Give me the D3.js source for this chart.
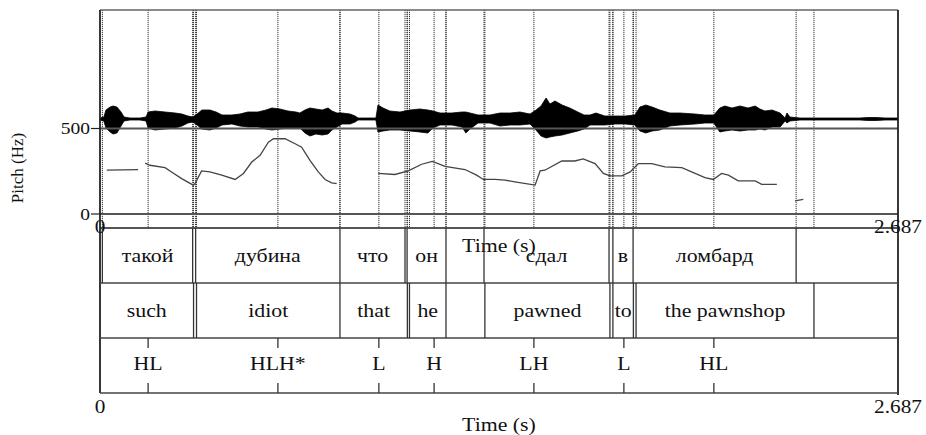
<!DOCTYPE html>
<html><head><meta charset="utf-8">
<script src="https://cdn.jsdelivr.net/npm/d3@7"></script>
<style>
html,body{margin:0;padding:0;background:#fff;}
svg{display:block;}
text{font-family:"Liberation Serif","Times New Roman",serif;fill:#111;}
</style></head>
<body>
<svg id="chart" width="926" height="435"></svg>
<script>
// ---------------- DATA ----------------
const duration = 2.687;
const timeTickLabels = ["0", "2.687"];
const pitchTicks = [0, 500];
const pitchLabel = "Pitch (Hz)";
const timeLabel = "Time (s)";

// Waveform envelope (time s, upper amplitude, lower amplitude; relative units)
const waveTime = [0,0.013,0.020,0.034,0.044,0.057,0.071,0.081,0.101,0.135,0.155,0.162,0.185,0.219,0.253,0.276,0.296,0.313,0.327,0.343,0.370,0.391,0.411,0.444,0.471,0.498,0.532,0.559,0.579,0.606,0.633,0.660,0.673,0.690,0.707,0.727,0.748,0.768,0.781,0.798,0.815,0.842,0.859,0.869,0.929,0.936,0.953,0.976,1.010,1.044,1.077,1.104,1.121,1.145,1.185,1.219,1.232,1.246,1.273,1.313,1.347,1.381,1.414,1.448,1.468,1.485,1.502,1.515,1.532,1.556,1.582,1.609,1.630,1.650,1.670,1.700,1.734,1.768,1.801,1.818,1.838,1.859,1.885,1.919,1.953,2.003,2.037,2.067,2.087,2.104,2.128,2.155,2.182,2.206,2.222,2.239,2.263,2.290,2.307,2.313,2.323,2.357,2.559,2.586,2.613,2.643,2.687];
const waveUpper = [1,2,9,12,13,12,7,2,1,1,2,7,8,7,6,5,3,2,5,9,9,7,4,4,5,7,7,9,11,10,8,7,6,9,11,10,9,11,8,6,6,5,3,1,1,14,11,8,7,9,10,9,8,6,6,7,7,6,4,4,6,6,7,5,9,13,21,15,18,14,11,7,4,4,6,3,3,3,4,12,14,12,9,6,6,5,4,4,11,13,11,13,11,13,10,8,9,6,1,6,2,1,1,1.5,1.5,1,1];
const waveLower = [1,2,9,13,15,14,7,2,1,1,2,9,11,10,9,7,4,3,6,10,11,9,6,5,7,8,8,10,11,10,9,9,9,14,17,15,16,15,11,8,5,5,3,1,1,13,12,11,11,12,13,14,9,6,6,8,14,10,4,4,7,6,6,5,11,17,19,18,17,16,14,12,10,6,6,6,5,5,6,12,14,12,11,7,6,5,4,4,13,12,11,12,11,11,10,11,8,8,2,4,2,1,1,1.5,1.5,1,1];

// Pitch contour (time s, Hz); null = unvoiced gap
const pitchTime = [0.023,0.128,null,0.152,0.168,0.219,0.241,0.275,0.314,0.320,0.342,0.370,0.410,0.455,0.483,0.511,0.539,0.567,0.584,0.623,0.657,0.679,0.707,0.735,0.758,0.780,0.797,null,0.937,0.993,1.038,1.083,1.119,1.162,1.229,1.268,1.291,1.330,1.364,1.397,1.465,1.482,1.498,1.555,1.599,1.627,1.667,1.695,1.717,1.757,1.785,1.813,1.858,1.902,1.959,2.037,2.065,2.093,2.116,2.149,2.206,2.228,2.279,null,2.340,2.368];
const pitchHz   = [256,260,null,298,285,271,246,207,169,178,252,246,227,202,237,304,343,420,440,440,411,391,314,246,202,182,178,null,237,231,252,291,308,279,260,227,202,202,198,188,169,252,256,310,310,322,295,237,223,223,246,295,295,275,271,213,202,237,227,194,194,173,173,null,77,85];

// TextGrid tiers (boundary times, s)
const tier1Bounds = [0.008,0.312,0.322,0.808,1.027,1.034,1.165,1.293,1.714,1.727,1.795,2.344];
const tier1Words  = ["такой","дубина","что","он","сдал","в","ломбард"];
const tier1Start  = [0.008,0.322,0.808,1.034,1.293,1.727,1.795];
const tier1End    = [0.312,0.808,1.027,1.165,1.714,1.795,2.344];

const tier2Bounds = [0.315,0.325,0.808,1.035,1.042,1.165,1.296,1.717,1.727,1.796,1.805,2.404];
const tier2Words  = ["such","idiot","that","he","pawned","to","the pawnshop"];
const tier2Start  = [0,0.325,0.808,1.042,1.296,1.727,1.805];
const tier2End    = [0.315,0.808,1.035,1.165,1.717,1.796,2.404];

const tonePoints = [0.162,0.599,0.939,1.125,1.461,1.764,2.067];
const toneLabels = ["HL","HLH*","L","H","LH","L","HL"];

// ---------------- DRAW ----------------
const svg = d3.select("#chart");
const L = 100, R = 898, TOP = 10;
const Y500 = 128.5, Y0 = 214, PANEL_BOTTOM = 228;
const TIER_H = 55;
const tierTops = [228, 283, 338];
const GRID_BOTTOM = 393;

const x = d3.scaleLinear().domain([0, duration]).range([L, R]);
const yPitch = d3.scaleLinear().domain([0, 500]).range([Y0, Y500]);
const yWave = d3.scaleLinear().domain([-30, 30]).range([149, 89]);

const SX = 1.12;
function label(sel, px, py, txt, size, anchor) {
  sel.append("text")
    .attr("transform", `translate(${px},${py}) scale(${SX},1)`)
    .attr("text-anchor", anchor || "middle")
    .attr("font-size", size)
    .text(txt);
}

// dotted boundary lines through upper panel
const upperLines = [...tier1Bounds, ...tier2Bounds, ...tonePoints];
svg.append("g").selectAll("line").data(upperLines).join("line")
  .attr("x1", d => x(d)).attr("x2", d => x(d))
  .attr("y1", TOP).attr("y2", PANEL_BOTTOM)
  .attr("stroke", "#333").attr("stroke-width", 1)
  .attr("stroke-dasharray", "1.2 0.8");

// waveform
const waveData = waveTime.map((t, i) => ({t, u: waveUpper[i], l: waveLower[i]}));
svg.append("path").datum(waveData)
  .attr("d", d3.area().x(d => x(d.t)).y0(d => yWave(-d.l)).y1(d => yWave(d.u)))
  .attr("fill", "#000").attr("stroke", "#000").attr("stroke-width", 0.8);

// horizontal lines of upper panel
svg.append("line").attr("x1", L).attr("x2", R).attr("y1", TOP).attr("y2", TOP)
  .attr("stroke", "#666").attr("stroke-width", 1.5);
svg.append("g").selectAll("line").data(pitchTicks).join("line")
  .attr("x1", L).attr("x2", R).attr("y1", d => yPitch(d)).attr("y2", d => yPitch(d))
  .attr("stroke", "#555").attr("stroke-width", 2.2);
svg.append("line").attr("x1", L).attr("x2", R).attr("y1", PANEL_BOTTOM).attr("y2", PANEL_BOTTOM)
  .attr("stroke", "#555").attr("stroke-width", 2.2);

// pitch axis ticks & labels
svg.append("g").selectAll("line").data(pitchTicks).join("line")
  .attr("x1", L - 9).attr("x2", L).attr("y1", d => yPitch(d)).attr("y2", d => yPitch(d))
  .attr("stroke", "#222").attr("stroke-width", 1.2);
pitchTicks.forEach(v => {
  svg.append("text")
    .attr("transform", `translate(${L - 10},${yPitch(v) + 5.5}) scale(1.22,1)`)
    .attr("text-anchor", "end").attr("font-size", 16).text(v);
});
svg.append("text")
  .attr("transform", `translate(23,168) rotate(-90)`)
  .attr("text-anchor", "middle").attr("font-size", 17).text(pitchLabel);

// pitch contour
const pitchData = pitchTime.map((t, i) => ({t, f: pitchHz[i]}));
svg.append("path").datum(pitchData)
  .attr("d", d3.line().defined(d => d.t !== null && d.f !== null).x(d => x(d.t)).y(d => yPitch(d.f)))
  .attr("fill", "none").attr("stroke", "#444").attr("stroke-width", 1.3);

// left / right frame
svg.append("line").attr("x1", L).attr("x2", L).attr("y1", TOP).attr("y2", GRID_BOTTOM)
  .attr("stroke", "#222").attr("stroke-width", 1.8);
svg.append("line").attr("x1", R).attr("x2", R).attr("y1", TOP).attr("y2", GRID_BOTTOM + 2)
  .attr("stroke", "#222").attr("stroke-width", 1.8);

// upper time labels
label(svg, x(0), 233, timeTickLabels[0], 19);
label(svg, x(duration), 233, timeTickLabels[1], 19);
label(svg, x(duration / 2), 252, timeLabel, 19.5);

// tier horizontal lines
svg.append("g").selectAll("line").data([283, 338, GRID_BOTTOM]).join("line")
  .attr("x1", L).attr("x2", R).attr("y1", d => d).attr("y2", d => d)
  .attr("stroke", "#444").attr("stroke-width", 1.4);

// tier boundaries
function bounds(list, top) {
  svg.append("g").selectAll("line").data(list).join("line")
    .attr("x1", d => x(d)).attr("x2", d => x(d))
    .attr("y1", top).attr("y2", top + TIER_H)
    .attr("stroke", "#333").attr("stroke-width", 1.3);
}
bounds(tier1Bounds, tierTops[0]);
bounds(tier2Bounds, tierTops[1]);

// tier labels
const t1g = svg.append("g");
tier1Words.forEach((w, i) => label(t1g, x((tier1Start[i] + tier1End[i]) / 2), tierTops[0] + 34, w, 19.5));
const t2g = svg.append("g");
tier2Words.forEach((w, i) => label(t2g, x((tier2Start[i] + tier2End[i]) / 2), tierTops[1] + 34, w, 19.5));

// tone tier
const tg = svg.append("g");
tonePoints.forEach((t, i) => {
  tg.append("line").attr("x1", x(t)).attr("x2", x(t)).attr("y1", tierTops[2]).attr("y2", tierTops[2] + 10)
    .attr("stroke", "#333").attr("stroke-width", 1.3);
  tg.append("line").attr("x1", x(t)).attr("x2", x(t)).attr("y1", GRID_BOTTOM - 10).attr("y2", GRID_BOTTOM)
    .attr("stroke", "#333").attr("stroke-width", 1.3);
  label(tg, x(t), tierTops[2] + 32, toneLabels[i], 19.5);
});

// bottom time axis labels
label(svg, x(0), 413, timeTickLabels[0], 19);
label(svg, x(duration), 413, timeTickLabels[1], 19);
label(svg, x(duration / 2), 431, timeLabel, 19.5);
</script>
</body></html>
